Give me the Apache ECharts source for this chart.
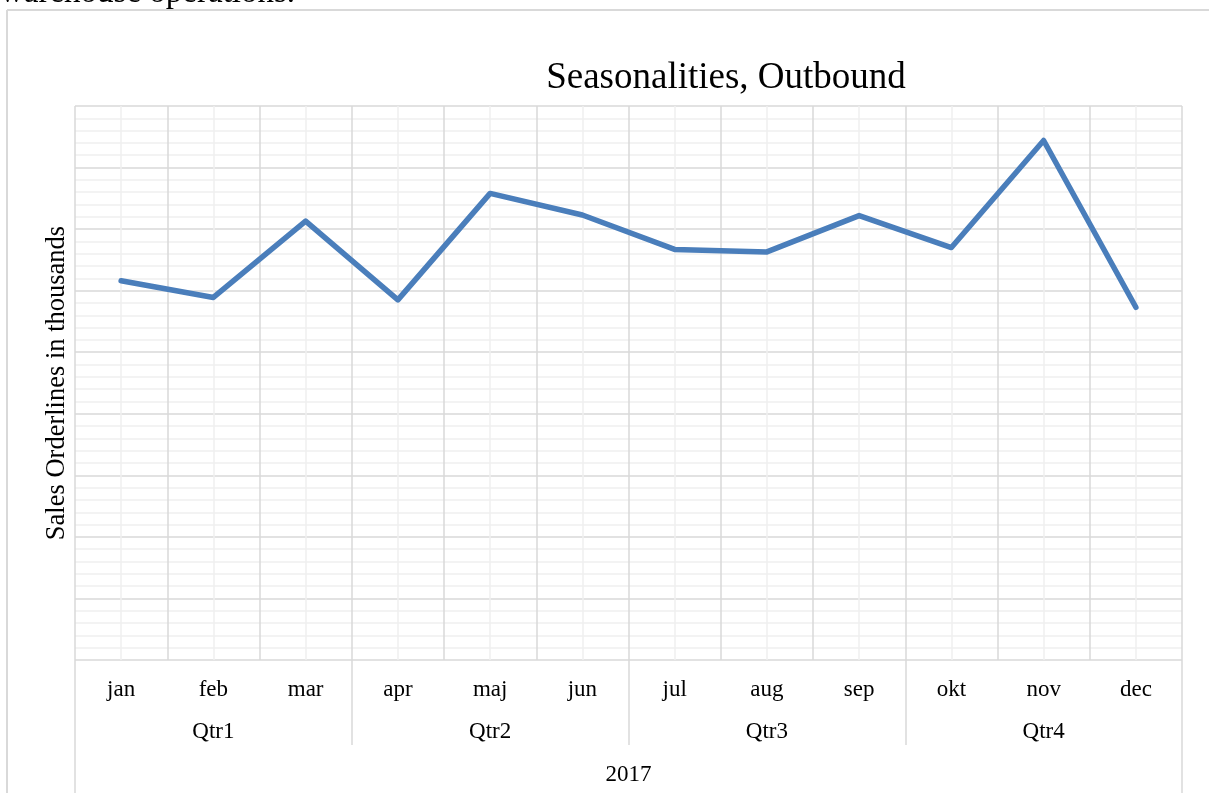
<!DOCTYPE html>
<html>
<head>
<meta charset="utf-8">
<style>
  html, body { margin: 0; padding: 0; background: #ffffff; }
  #chart { width: 1209px; height: 793px; }
</style>
<script src="https://cdn.jsdelivr.net/npm/echarts@6/dist/echarts.min.js"></script>
</head>
<body>
<div id="chart"></div>
<script>
const months = ['jan', 'feb', 'mar', 'apr', 'maj', 'jun', 'jul', 'aug', 'sep', 'okt', 'nov', 'dec'];
const quarters = ['Qtr1', 'Qtr2', 'Qtr3', 'Qtr4'];
const years = ['2017'];
const orderlines = [61.6, 58.9, 71.3, 58.5, 75.8, 72.3, 66.7, 66.3, 72.2, 67.0, 84.4, 57.3];

const FONT = '"Liberation Serif", "Times New Roman", serif';
const MAJOR = '#d9d9d9';
const MINOR = '#f0f0f0';

const chart = echarts.init(document.getElementById('chart'), null, { renderer: 'canvas' });
chart.setOption({
  animation: false,
  backgroundColor: '#ffffff',
  title: {
    text: 'Seasonalities, Outbound',
    left: 721,
    top: 55,
    textAlign: 'center',
    textStyle: { fontFamily: FONT, fontSize: 37, fontWeight: 'normal', color: '#000' }
  },
  graphic: [
    { type: 'text', left: 0, top: -23, silent: true,
      style: { text: 'warehouse operations.', font: '33px ' + FONT, fill: '#000' } },
    { type: 'line', silent: true, shape: { x1: 7, y1: 10, x2: 1209, y2: 10 },
      style: { stroke: MAJOR, lineWidth: 2 } },
    { type: 'line', silent: true, shape: { x1: 7, y1: 10, x2: 7, y2: 793 },
      style: { stroke: MAJOR, lineWidth: 2 } }
  ],
  grid: { left: 75, top: 106, width: 1107, height: 554, containLabel: false },
  xAxis: [
    {
      type: 'value', min: 0, max: 12, interval: 1, position: 'bottom',
      axisLine: { show: false }, axisTick: { show: false }, axisLabel: { show: false },
      splitLine: { show: true, lineStyle: { color: MAJOR, width: 1.5 } },
      minorTick: { show: false, splitNumber: 2 },
      minorSplitLine: { show: true, lineStyle: { color: MINOR, width: 1.5 } }
    },
    {
      type: 'category', data: months, position: 'bottom', boundaryGap: true,
      axisLine: { show: false }, axisTick: { show: false }, splitLine: { show: false },
      axisLabel: { interval: 0, margin: 18, fontFamily: FONT, fontSize: 23, color: '#000' }
    },
    {
      type: 'category', data: quarters, position: 'bottom', boundaryGap: true,
      axisLine: { show: false }, splitLine: { show: false },
      axisTick: { show: true, interval: 0, length: 85, lineStyle: { color: MAJOR, width: 1.5 } },
      axisLabel: { interval: 0, margin: 60, fontFamily: FONT, fontSize: 23, color: '#000' }
    },
    {
      type: 'category', data: years, position: 'bottom', boundaryGap: true,
      axisLine: { show: false }, splitLine: { show: false },
      axisTick: { show: true, interval: 0, length: 140, lineStyle: { color: MAJOR, width: 1.5 } },
      axisLabel: { interval: 0, margin: 103, fontFamily: FONT, fontSize: 23, color: '#000' }
    }
  ],
  yAxis: {
    type: 'value', min: 0, max: 90, interval: 10,
    name: 'Sales Orderlines in thousands',
    nameLocation: 'middle', nameGap: 4,
    nameTextStyle: { fontFamily: FONT, fontSize: 26.5, color: '#000' },
    axisLine: { show: false }, axisTick: { show: false }, axisLabel: { show: false },
    splitLine: { show: true, lineStyle: { color: MAJOR, width: 1.5 } },
    minorTick: { show: false, splitNumber: 5 },
    minorSplitLine: { show: true, lineStyle: { color: MINOR, width: 1.5 } }
  },
  series: [{
    type: 'line',
    xAxisIndex: 1,
    yAxisIndex: 0,
    data: orderlines,
    symbol: 'none',
    smooth: false,
    lineStyle: { color: '#4a7ebb', width: 5.5, cap: 'round', join: 'round' },
    z: 5
  }]
});
</script>
</body>
</html>
